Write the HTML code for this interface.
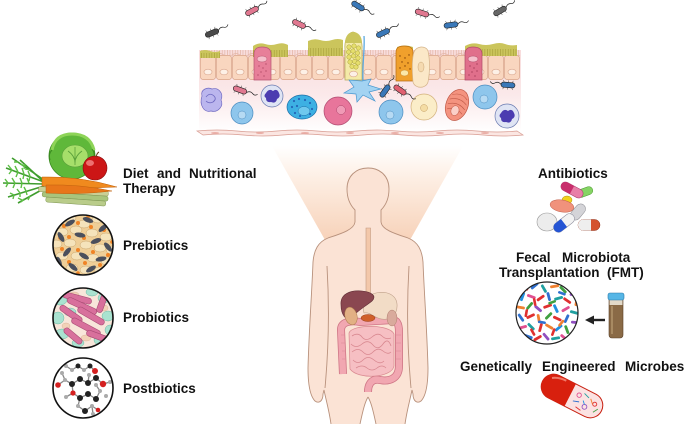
<!DOCTYPE html>
<html><head><meta charset="utf-8"><style>
html,body{margin:0;padding:0;background:#fff;}
svg{display:block;}
text{font-family:"Liberation Sans",Arial,sans-serif;font-weight:bold;font-size:13.5px;fill:#111;}
</style></head><body>
<svg width="685" height="424" viewBox="0 0 685 424" xmlns="http://www.w3.org/2000/svg">
<defs>
<linearGradient id="beam" x1="0" y1="0" x2="0" y2="1">
<stop offset="0" stop-color="#ffffff"/>
<stop offset="0.35" stop-color="#fdeee3"/>
<stop offset="1" stop-color="#f7d2b9"/>
</linearGradient>
<linearGradient id="lam" x1="0" y1="0" x2="0" y2="1">
<stop offset="0" stop-color="#f8dcdc"/>
<stop offset="0.55" stop-color="#fbe9ea"/>
<stop offset="1" stop-color="#ffffff"/>
</linearGradient>
<pattern id="cells" x="200" y="55" width="16" height="25" patternUnits="userSpaceOnUse">
<rect x="0.4" y="0.4" width="15.2" height="24.2" rx="3" fill="#f9d6bf" stroke="#d9a58c" stroke-width="0.7"/>
<ellipse cx="8" cy="17" rx="4" ry="2.8" fill="#fdf0e6" stroke="#d9a58c" stroke-width="0.6"/>
</pattern>
<pattern id="mv" x="0" y="0" width="2.6" height="8" patternUnits="userSpaceOnUse">
<line x1="1.2" y1="0" x2="1.2" y2="8" stroke="#dfae9c" stroke-width="0.6"/>
</pattern>
<pattern id="mvg" x="0" y="0" width="2.6" height="8" patternUnits="userSpaceOnUse">
<line x1="1.2" y1="0" x2="1.2" y2="8" stroke="#a39c36" stroke-width="0.6"/>
</pattern>
<g id="bac">
<path d="M-4,-2.6 l-1,-2 M0,-2.6 l0,-2 M4,-2.6 l1,-2 M-4,2.6 l-1,2 M0,2.6 l0,2 M4,2.6 l1,2" stroke="#222" stroke-width="0.4"/>
<rect x="-7" y="-2.6" width="14" height="5.2" rx="2.6" stroke="#222" stroke-width="0.6"/>
<path d="M7,0 q3,-3 6,-1 t5,-1" fill="none" stroke="#222" stroke-width="0.7"/>
</g>
<clipPath id="c1"><circle cx="83" cy="245" r="30"/></clipPath>
<clipPath id="c2"><circle cx="83" cy="318" r="30"/></clipPath>
<clipPath id="c3"><circle cx="83" cy="388" r="30"/></clipPath>
<clipPath id="c4"><circle cx="547" cy="313" r="31"/></clipPath>
</defs>

<!-- ================= TISSUE ================= -->
<rect x="199" y="50" width="322" height="82" fill="url(#lam)"/>
<rect x="200" y="50" width="320" height="6" fill="url(#mv)"/>
<path d="M200,55 q4,-3 8,0 t8,0 t8,0 t8,0 t8,0 t8,0 t8,0 t8,0 t8,0 t8,0 t8,0 t8,0 t8,0 t8,0 t8,0 t8,0 t8,0 t8,0 t8,0 t8,0 t8,0 t8,0 t8,0 t8,0 t8,0 t8,0 t8,0 t8,0 t8,0 t8,0 t8,0 t8,0 t8,0 t8,0 t8,0 t8,0 t8,0 t8,0 t8,0 t8,0" fill="none" stroke="#e4b6a6" stroke-width="0.7"/>
<rect x="200" y="55" width="320" height="25" fill="url(#cells)"/>
<g fill="#cbc55c">
<path d="M200,51 q5,-2 10,0 t10,0 L220,58 L200,58 Z"/>
<path d="M253,46 q6,-4 12,-2 t12,0 t11,1 L288,57 L253,57 Z"/>
<path d="M308,41 q6,-3 12,-1 t12,0 t11,0 L343,56 L308,56 Z"/>
<path d="M397,47 q8,-3 16,0 L413,56 L397,56 Z"/>
<path d="M465,46 q7,-4 14,-2 t14,0 t12,0 t12,1 L517,56 L465,56 Z"/>
</g>
<g>
<rect x="200" y="53" width="20" height="5" fill="url(#mvg)"/>
<rect x="253" y="50" width="35" height="7" fill="url(#mvg)"/>
<rect x="308" y="48" width="35" height="8" fill="url(#mvg)"/>
<rect x="465" y="49" width="52" height="7" fill="url(#mvg)"/>
</g>
<path d="M254,80 L254,54 C254,49 257,47 262,47 C268,47 271,49 271,54 L271,80 Z" fill="#e77f99" stroke="#b75470" stroke-width="0.7"/>
<ellipse cx="262" cy="59" rx="5" ry="3" fill="#f5c0cc" stroke="#b75470" stroke-width="0.5"/>
<g fill="#a03a58"><circle cx="259" cy="66" r="0.6"/><circle cx="263" cy="68" r="0.6"/><circle cx="266" cy="64" r="0.6"/><circle cx="261" cy="72" r="0.6"/><circle cx="266" cy="71" r="0.6"/><circle cx="258" cy="75" r="0.6"/><circle cx="264" cy="76" r="0.6"/></g>
<path d="M465,80 L465,54 C465,49 468,47 473,47 C479,47 482,49 482,54 L482,80 Z" fill="#e06f8b" stroke="#b04a68" stroke-width="0.7"/>
<ellipse cx="473" cy="59" rx="5" ry="3" fill="#f5c0cc" stroke="#b04a68" stroke-width="0.5"/>
<g fill="#902a48"><circle cx="470" cy="66" r="0.6"/><circle cx="474" cy="68" r="0.6"/><circle cx="477" cy="64" r="0.6"/><circle cx="472" cy="72" r="0.6"/><circle cx="477" cy="71" r="0.6"/><circle cx="469" cy="75" r="0.6"/><circle cx="475" cy="76" r="0.6"/></g>
<path d="M345,80 L345,50 C344,40 348,33 353,32 C358,33 363,40 362,50 L362,80 Z" fill="#f4eaa8" stroke="#b3a758" stroke-width="0.7"/>
<path d="M345,43 C345,36 349,32 353,32 C358,32 362,36 362,43 Z" fill="#cbc55c"/>
<g fill="#e6df6c" stroke="#aba23e" stroke-width="0.5">
<circle cx="349" cy="47" r="2.2"/><circle cx="354" cy="46" r="2.2"/><circle cx="358.5" cy="48" r="2.2"/>
<circle cx="348.5" cy="52" r="2.2"/><circle cx="353" cy="51" r="2.2"/><circle cx="357.5" cy="53" r="2.2"/>
<circle cx="349" cy="57" r="2.2"/><circle cx="353.5" cy="56" r="2.2"/><circle cx="358" cy="58" r="2.2"/>
<circle cx="350" cy="62" r="2.2"/><circle cx="354.5" cy="61.5" r="2.2"/><circle cx="358" cy="63" r="2.2"/>
<circle cx="352" cy="66.5" r="2.2"/><circle cx="356" cy="67" r="2.2"/>
</g>
<ellipse cx="353.5" cy="74" rx="4" ry="2.8" fill="#fdf0e6" stroke="#d9a58c" stroke-width="0.6"/>
<path d="M396,81 L396,52 C396,48 399,46 404,46 C410,46 413,48 413,52 L413,81 Z" fill="#f0a02c" stroke="#b86e14" stroke-width="0.7"/>
<g fill="#7a3c08"><circle cx="400" cy="56" r="0.7"/><circle cx="405" cy="58" r="0.7"/><circle cx="409" cy="55" r="0.7"/><circle cx="402" cy="62" r="0.7"/><circle cx="408" cy="63" r="0.7"/><circle cx="400" cy="68" r="0.7"/><circle cx="405" cy="66" r="0.7"/><circle cx="410" cy="69" r="0.7"/></g>
<ellipse cx="404.5" cy="73" rx="4" ry="3" fill="#fbe7a8" stroke="#c88a30" stroke-width="0.5"/>
<path d="M413,82 C412,70 412,58 414,52 C416,46 426,45 428,51 C430,60 430,72 428,82 C426,89 415,89 413,82 Z" fill="#fbe8c8" stroke="#d5b48a" stroke-width="0.7"/>
<ellipse cx="421" cy="67" rx="3" ry="5" fill="#f5dab0" stroke="#c9a474" stroke-width="0.5"/>
<path d="M364,36 C365,50 362,65 363,82" fill="none" stroke="#5aa8e0" stroke-width="1.3"/>
<path d="M362,81 L371,79 L368,85 L381,89 L369,92 L375,101 L363,95 L357,102 L356,94 L344,93 L354,87 L349,80 Z" fill="#a3d3f2" stroke="#4a98d0" stroke-width="0.7"/>
<path d="M202,96 C200,89 208,87 212,89 C218,87 224,93 221,100 C224,106 218,113 211,111 C204,113 199,105 202,96 Z" fill="#bbb6ee" stroke="#6f69c2" stroke-width="0.7"/>
<path d="M206,97 q4,-5 8,-1 q3,3 -1,6 q-4,2 -7,-1" fill="none" stroke="#6f69c2" stroke-width="0.8"/>
<circle cx="242" cy="113" r="11" fill="#8ec6ec" stroke="#4a8cc0" stroke-width="0.7"/>
<circle cx="242" cy="115" r="4" fill="#b6daf3" stroke="#4a8cc0" stroke-width="0.5"/>
<circle cx="272" cy="96" r="11" fill="#dfe4f4" stroke="#6a7ab0" stroke-width="0.7"/>
<path d="M266,93 q3,-5 7,-2 q4,-3 6,2 q2,4 -2,6 q-1,5 -6,3 q-5,1 -5,-4 q-3,-2 0,-5 Z" fill="#4b3cb0"/>
<ellipse cx="302" cy="107" rx="15" ry="12" fill="#3db0e3" stroke="#1c6fa8" stroke-width="0.7"/>
<ellipse cx="304" cy="111" rx="6" ry="4.5" fill="#6fc8ee" stroke="#1c6fa8" stroke-width="0.5"/>
<g fill="#2466b8"><circle cx="294" cy="101" r="1.1"/><circle cx="299" cy="99" r="1.1"/><circle cx="305" cy="100" r="1.1"/><circle cx="310" cy="103" r="1.1"/><circle cx="292" cy="107" r="1.1"/><circle cx="297" cy="106" r="1.1"/><circle cx="312" cy="109" r="1.1"/><circle cx="295" cy="113" r="1.1"/><circle cx="310" cy="114" r="1.1"/><circle cx="300" cy="116" r="1.1"/></g>
<circle cx="338" cy="111" r="14" fill="#e8759b" stroke="#b04a70" stroke-width="0.7"/>
<circle cx="341" cy="110" r="4.5" fill="#f09ab6" stroke="#b04a70" stroke-width="0.5"/>
<circle cx="391" cy="112" r="12" fill="#8ec6ec" stroke="#4a8cc0" stroke-width="0.7"/>
<circle cx="390" cy="115" r="4" fill="#b6daf3" stroke="#4a8cc0" stroke-width="0.5"/>
<circle cx="424" cy="107" r="13" fill="#fbedc8" stroke="#d2b07a" stroke-width="0.7"/>
<circle cx="424" cy="108" r="3.5" fill="#f4dca4" stroke="#c49c60" stroke-width="0.5"/>
<g transform="translate(457,105) rotate(20)">
<ellipse cx="0" cy="0" rx="11" ry="16" fill="#f4937f" stroke="#c05a48" stroke-width="0.7"/>
<path d="M-8,-8 q8,-6 16,0 M-9,-3 q9,-6 18,0 M-9,2 q9,-6 18,0 M-8,7 q8,-5 16,0" fill="none" stroke="#c05a48" stroke-width="0.6"/>
<ellipse cx="0" cy="6" rx="4" ry="5" fill="#fbd0c8" stroke="#c05a48" stroke-width="0.5"/>
</g>
<circle cx="485" cy="97" r="12" fill="#8ec6ec" stroke="#4a8cc0" stroke-width="0.7"/>
<circle cx="484" cy="99" r="4" fill="#b6daf3" stroke="#4a8cc0" stroke-width="0.5"/>
<circle cx="507" cy="116" r="12" fill="#dfe4f4" stroke="#6a7ab0" stroke-width="0.7"/>
<path d="M501,113 q3,-5 7,-2 q4,-3 6,2 q2,4 -2,6 q-1,5 -6,3 q-5,1 -5,-4 q-3,-2 0,-5 Z" fill="#4b3cb0"/>
<path d="M197,131 q20,-2 40,0 t40,0 t40,0 t40,0 t40,0 t40,0 t40,0 t40,0 L523,135 q-20,2 -40,0 t-40,0 t-40,0 t-40,0 t-40,0 t-40,0 t-40,0 t-40,0 Z" fill="#fbe6e2" stroke="#d89c92" stroke-width="0.7"/>
<g fill="#e8a8a0"><ellipse cx="215" cy="133" rx="4" ry="0.9"/><ellipse cx="260" cy="133" rx="4" ry="0.9"/><ellipse cx="305" cy="133" rx="4" ry="0.9"/><ellipse cx="350" cy="133" rx="4" ry="0.9"/><ellipse cx="395" cy="133" rx="4" ry="0.9"/><ellipse cx="440" cy="133" rx="4" ry="0.9"/><ellipse cx="485" cy="133" rx="4" ry="0.9"/></g>
<use href="#bac" transform="translate(252,11) rotate(-28)" fill="#e07890"/>
<use href="#bac" transform="translate(212,33) rotate(-22)" fill="#4a4a4a"/>
<use href="#bac" transform="translate(299,24) rotate(25)" fill="#e07890"/>
<use href="#bac" transform="translate(358,6) rotate(32)" fill="#3a78b8"/>
<use href="#bac" transform="translate(383,33) rotate(-25)" fill="#3a78b8"/>
<use href="#bac" transform="translate(422,13) rotate(18)" fill="#e07890"/>
<use href="#bac" transform="translate(451,25) rotate(-8)" fill="#3a78b8"/>
<use href="#bac" transform="translate(500,11) rotate(-30)" fill="#666"/>
<use href="#bac" transform="translate(240,90) rotate(20)" fill="#e07890"/>
<use href="#bac" transform="translate(385,91) rotate(-55)" fill="#3a78b8"/>
<use href="#bac" transform="translate(400,90) rotate(35)" fill="#e06070"/>
<use href="#bac" transform="translate(508,85) rotate(5) scale(-1,1)" fill="#3a78b8"/>

<!-- ================= BEAM + BODY ================= -->
<polygon points="272,146 463,146 410,240 325,240" fill="url(#beam)"/>
<g id="bodyhalf">
<path d="M368,168 C356,168 347,176 347,189 C347,198 350,205 355,210 L355,222 C354,230 340,234 328,238 C318,242 314,250 313,262 C312,290 309,330 308,368 C308,385 310,396 315,401 C319,404 323,401 323,394 L324,390 C326,400 329,410 331,424 L360,424 C363,410 365,402 368,397 Z" fill="#fbe3d5"/>
<path d="M368,168 C356,168 347,176 347,189 C347,198 350,205 355,210 L355,222 C354,230 340,234 328,238 C318,242 314,250 313,262 C312,290 309,330 308,368 C308,385 310,396 315,401 C319,404 323,401 323,394 L324,390 C326,400 329,410 331,424 M360,424 C363,410 365,402 368,397 M327,266 C329,300 329,345 325,388" fill="none" stroke="#b8917c" stroke-width="0.9"/>
</g>
<use href="#bodyhalf" transform="translate(736,0) scale(-1,1)"/>
<path d="M366,228 L366,294 L370.5,294 L370.5,228 Z" fill="#f3c8aa" stroke="#c49a80" stroke-width="0.6"/>
<path d="M343,374 L341,330 C341,322 350,320 360,322 L392,320 C398,320 399,326 399,332 L399,366 C399,378 390,382 380,380 C372,378 368,384 368,392" fill="none" stroke="#cf7686" stroke-width="8"/>
<path d="M343,374 L341,330 C341,322 350,320 360,322 L392,320 C398,320 399,326 399,332 L399,366 C399,378 390,382 380,380 C372,378 368,384 368,392" fill="none" stroke="#f1a7b1" stroke-width="6.4"/>
<path d="M341,335 l4,0 M341,343 l4,0 M342,351 l4,0 M342,359 l4,0 M396,335 l5,0 M396,343 l5,0 M396,351 l5,0 M396,359 l5,0" stroke="#d98896" stroke-width="0.6"/>
<path d="M349,333 C352,324 390,324 394,334 L394,366 C392,378 358,380 350,369 Z" fill="#f6bfc3" stroke="#d88890" stroke-width="0.7"/>
<path d="M352,336 q6,-4 10,1 t10,0 t10,-1 t9,2 M351,344 q5,5 11,0 t11,1 t10,-1 t8,2 M352,352 q6,-5 11,0 t10,0 t10,-1 t8,1 M353,360 q5,5 10,0 t11,0 t10,1 M356,368 q6,-4 11,0 t10,0 t9,0" fill="none" stroke="#d88890" stroke-width="0.8"/>
<path d="M369,296 C380,289 396,292 397,304 C398,316 388,322 378,318 C372,316 370,312 364,313 C362,306 364,299 369,296 Z" fill="#f2dcc6" stroke="#bfa08a" stroke-width="0.6"/>
<ellipse cx="392" cy="318" rx="5" ry="8" fill="#d9aa9c" stroke="#b08070" stroke-width="0.5"/>
<path d="M341,305 C340,294 350,290 362,291 C372,292 377,296 372,301 C366,306 357,311 351,318 C346,322 341,314 341,305 Z" fill="#8a4750" stroke="#5e2c34" stroke-width="0.6"/>
<ellipse cx="351" cy="316" rx="6" ry="9" transform="rotate(-15 351 316)" fill="#e2b084" stroke="#a87848" stroke-width="0.5"/>
<ellipse cx="368" cy="318" rx="7" ry="3.5" fill="#d0602a" stroke="#9a4018" stroke-width="0.5"/>

<!-- ================= LEFT COLUMN ================= -->
<!-- cabbage -->
<circle cx="72" cy="156" r="23" fill="#5fb83a" stroke="#3a8a20" stroke-width="0.8"/>
<path d="M52,150 q3,-16 20,-16 q18,0 22,16" fill="none" stroke="#8ed458" stroke-width="3"/>
<path d="M50,160 q-2,-6 2,-10 M93,160 q3,-6 -1,-11" fill="none" stroke="#3a8a20" stroke-width="1"/>
<ellipse cx="75" cy="156" rx="13" ry="11" fill="#a6df6a" stroke="#5aa03a" stroke-width="0.6"/>
<path d="M75,147 l0,18 M68,151 q7,5 7,12 M82,151 q-7,5 -7,12" fill="none" stroke="#5aa03a" stroke-width="0.8"/>
<!-- carrot fronds -->
<g stroke="#3f9d2e" stroke-width="1.6" fill="none">
<path d="M44,182 L6,168"/><path d="M44,184 L3,183"/><path d="M44,186 L8,197"/><path d="M46,184 L20,160"/><path d="M45,188 L18,203"/><path d="M44,180 L12,158"/>
</g>
<g stroke="#5cbf44" stroke-width="1.4" fill="none">
<path d="M12,170 l-4,-5 M18,172 l-3,-6 M24,174 l-2,-6 M12,170 l-3,4 M18,172 l-2,5 M24,174 l-1,5 M30,176 l-2,-5 M30,176 l-1,5 M8,183 l-3,-4 M15,183 l-3,-5 M22,183 l-2,-5 M29,183 l-2,-5 M8,183 l-2,4 M15,183 l-2,5 M22,183 l-1,5 M14,195 l-4,-2 M20,193 l-3,-4 M26,191 l-2,-4 M14,195 l-1,4 M20,193 l0,4 M26,191 l1,4 M25,166 l-5,-2 M30,170 l-5,-1 M24,169 l1,-5 M18,162 l-4,0 M24,199 l-3,3 M30,196 l-2,4 M22,200 l-4,-2"/>
</g>
<!-- asparagus -->
<g transform="rotate(4 75 198)">
<rect x="38" y="189" width="70" height="5" rx="2" fill="#c9cf96" stroke="#8f9a5a" stroke-width="0.5"/>
<rect x="42" y="194" width="66" height="5" rx="2" fill="#a9c47c" stroke="#7c9450" stroke-width="0.5"/>
<rect x="46" y="199" width="60" height="5" rx="2" fill="#b9cc8a" stroke="#7c9450" stroke-width="0.5"/>
</g>
<!-- carrots -->
<path d="M42,177 Q80,176 117,187 Q80,189 42,186 Z" fill="#f08a1e" stroke="#c0600c" stroke-width="0.5"/>
<path d="M46,185 Q80,184 112,191 Q80,195 46,193 Z" fill="#e8761a" stroke="#c0600c" stroke-width="0.5"/>
<!-- apple -->
<circle cx="95" cy="168" r="12" fill="#cc1616" stroke="#8a0c0c" stroke-width="0.6"/>
<ellipse cx="90" cy="163" rx="4" ry="3" fill="#ee7070"/>
<path d="M96,157 q1,-4 3,-5" stroke="#6a4020" stroke-width="1" fill="none"/>

<!-- prebiotics -->
<g clip-path="url(#c1)">
<rect x="50" y="212" width="66" height="66" fill="#efcf98"/>
<g fill="#f5e3bb" stroke="#c7a26a" stroke-width="0.5">
<ellipse cx="58" cy="222" rx="6" ry="4"/><ellipse cx="70" cy="218" rx="6" ry="4"/><ellipse cx="84" cy="224" rx="6" ry="4"/><ellipse cx="98" cy="219" rx="6" ry="4"/><ellipse cx="110" cy="226" rx="6" ry="4"/>
<ellipse cx="62" cy="232" rx="6" ry="4"/><ellipse cx="76" cy="230" rx="6" ry="4"/><ellipse cx="92" cy="233" rx="6" ry="4"/><ellipse cx="106" cy="237" rx="6" ry="4"/>
<ellipse cx="56" cy="244" rx="6" ry="4"/><ellipse cx="70" cy="243" rx="6" ry="4"/><ellipse cx="86" cy="245" rx="6" ry="4"/><ellipse cx="100" cy="248" rx="6" ry="4"/><ellipse cx="112" cy="250" rx="6" ry="4"/>
<ellipse cx="62" cy="256" rx="6" ry="4"/><ellipse cx="77" cy="256" rx="6" ry="4"/><ellipse cx="93" cy="258" rx="6" ry="4"/><ellipse cx="107" cy="261" rx="6" ry="4"/>
<ellipse cx="58" cy="268" rx="6" ry="4"/><ellipse cx="72" cy="268" rx="6" ry="4"/><ellipse cx="86" cy="270" rx="6" ry="4"/><ellipse cx="100" cy="271" rx="6" ry="4"/>
</g>
<g fill="#f08426">
<circle cx="64" cy="226" r="2"/><circle cx="78" cy="223" r="2"/><circle cx="91" cy="227" r="2"/><circle cx="104" cy="230" r="2"/><circle cx="69" cy="237" r="2"/><circle cx="84" cy="238" r="2"/><circle cx="99" cy="240" r="2"/>
<circle cx="62" cy="249" r="2"/><circle cx="78" cy="250" r="2"/><circle cx="93" cy="252" r="2"/><circle cx="108" cy="255" r="2"/><circle cx="69" cy="262" r="2"/><circle cx="85" cy="263" r="2"/><circle cx="100" cy="265" r="2"/>
<circle cx="60" cy="238" r="1.8"/><circle cx="112" cy="242" r="1.8"/><circle cx="78" cy="273" r="1.8"/><circle cx="93" cy="276" r="1.8"/><circle cx="88" cy="217" r="1.8"/>
</g>
<g fill="#4a4f5c">
<ellipse cx="70" cy="223" rx="5.5" ry="2.4" transform="rotate(-30 70 223)"/>
<ellipse cx="88" cy="220" rx="5.5" ry="2.4" transform="rotate(20 88 220)"/>
<ellipse cx="103" cy="228" rx="5.5" ry="2.4" transform="rotate(-40 103 228)"/>
<ellipse cx="61" cy="237" rx="5.5" ry="2.4" transform="rotate(60 61 237)"/>
<ellipse cx="80" cy="235" rx="5.5" ry="2.4" transform="rotate(10 80 235)"/>
<ellipse cx="96" cy="241" rx="5.5" ry="2.4" transform="rotate(-20 96 241)"/>
<ellipse cx="108" cy="247" rx="5.5" ry="2.4" transform="rotate(50 108 247)"/>
<ellipse cx="67" cy="252" rx="5.5" ry="2.4" transform="rotate(-50 67 252)"/>
<ellipse cx="84" cy="256" rx="5.5" ry="2.4" transform="rotate(30 84 256)"/>
<ellipse cx="101" cy="259" rx="5.5" ry="2.4" transform="rotate(-10 101 259)"/>
<ellipse cx="73" cy="267" rx="5.5" ry="2.4" transform="rotate(40 73 267)"/>
<ellipse cx="91" cy="269" rx="5.5" ry="2.4" transform="rotate(-30 91 269)"/>
<ellipse cx="59" cy="262" rx="5.5" ry="2.4" transform="rotate(70 59 262)"/>
</g>
</g>
<circle cx="83" cy="245" r="30" fill="none" stroke="#111" stroke-width="1.6"/>

<!-- probiotics -->
<g clip-path="url(#c2)">
<rect x="50" y="285" width="66" height="66" fill="#f8e6da"/>
<g fill="#a9e2d0" stroke="#6fb8a4" stroke-width="0.5">
<ellipse cx="60" cy="300" rx="7" ry="5"/><ellipse cx="104" cy="298" rx="6" ry="5"/><ellipse cx="58" cy="318" rx="6" ry="6"/><ellipse cx="70" cy="312" rx="6" ry="4"/>
<ellipse cx="108" cy="316" rx="6" ry="5"/><ellipse cx="62" cy="334" rx="7" ry="5"/><ellipse cx="100" cy="340" rx="6" ry="5"/><ellipse cx="78" cy="343" rx="6" ry="4"/>
<ellipse cx="92" cy="292" rx="6" ry="4"/><ellipse cx="110" cy="330" rx="5" ry="5"/>
</g>
<g fill="#f2d2b8" stroke="#d4a88c" stroke-width="0.4">
<ellipse cx="74" cy="295" rx="5" ry="3"/><ellipse cx="86" cy="338" rx="5" ry="3"/><ellipse cx="66" cy="326" rx="4" ry="3"/><ellipse cx="104" cy="308" rx="4" ry="3"/>
</g>
<g fill="#d8709c" stroke="#a84a74" stroke-width="0.6">
<rect x="62" y="295" width="30" height="6" rx="3" transform="rotate(15 77 298)"/>
<rect x="66" y="303" width="32" height="6" rx="3" transform="rotate(25 82 306)"/>
<rect x="58" y="311" width="26" height="6" rx="3" transform="rotate(35 71 314)"/>
<rect x="76" y="313" width="30" height="6" rx="3" transform="rotate(30 91 316)"/>
<rect x="70" y="324" width="32" height="6" rx="3" transform="rotate(28 86 327)"/>
<rect x="92" y="300" width="20" height="6" rx="3" transform="rotate(-70 102 303)"/>
<rect x="62" y="333" width="22" height="6" rx="3" transform="rotate(40 73 336)"/>
<rect x="86" y="333" width="22" height="6" rx="3" transform="rotate(20 97 336)"/>
</g>
</g>
<circle cx="83" cy="318" r="30" fill="none" stroke="#111" stroke-width="1.6"/>

<!-- postbiotics -->
<circle cx="83" cy="388" r="30" fill="#fff"/>
<g clip-path="url(#c3)">
<g stroke="#888" stroke-width="1.3" fill="none">
<path d="M66,366 L72,370 L78,366 L84,370 L90,366 L95,371"/>
<path d="M58,385 L65,380 L72,384 L80,379 L88,383 L96,378 L103,384"/>
<path d="M72,384 L73,393 L80,398 L88,394 L96,399 L100,391 L96,385"/>
<path d="M80,398 L78,406 L85,411 L92,406 L98,410"/>
<path d="M65,380 L62,373 M88,383 L89,375 M103,384 L110,382 M73,393 L66,397 M92,406 L93,414"/>
</g>
<g fill="#222"><circle cx="72" cy="384" r="3"/><circle cx="80" cy="379" r="3"/><circle cx="88" cy="383" r="3"/><circle cx="96" cy="378" r="3"/><circle cx="80" cy="398" r="3"/><circle cx="88" cy="394" r="3"/><circle cx="96" cy="399" r="3"/><circle cx="85" cy="411" r="3"/><circle cx="78" cy="366" r="2.5"/><circle cx="90" cy="366" r="2.5"/></g>
<g fill="#d42020"><circle cx="58" cy="385" r="2.8"/><circle cx="103" cy="384" r="3.2"/><circle cx="73" cy="393" r="2.6"/><circle cx="95" cy="371" r="3"/><circle cx="98" cy="410" r="2.3"/></g>
<g fill="#aaa"><circle cx="66" cy="366" r="2"/><circle cx="72" cy="370" r="2"/><circle cx="84" cy="370" r="2"/><circle cx="65" cy="380" r="2"/><circle cx="62" cy="373" r="2"/><circle cx="89" cy="375" r="2"/><circle cx="110" cy="382" r="2"/><circle cx="66" cy="397" r="2"/><circle cx="100" cy="391" r="2"/><circle cx="96" cy="385" r="2"/><circle cx="78" cy="406" r="2"/><circle cx="92" cy="406" r="2"/><circle cx="93" cy="414" r="2"/><circle cx="106" cy="396" r="2"/></g>
</g>
<circle cx="83" cy="388" r="30" fill="none" stroke="#111" stroke-width="1.6"/>

<text y="178"><tspan x="123">Diet</tspan><tspan x="157">and</tspan><tspan x="189">Nutritional</tspan></text>
<text x="123" y="193">Therapy</text>
<text x="123" y="250">Prebiotics</text>
<text x="123" y="322">Probiotics</text>
<text x="123" y="393">Postbiotics</text>

<!-- ================= RIGHT COLUMN ================= -->
<text x="538" y="178">Antibiotics</text>
<g transform="translate(585,192) rotate(-20)"><rect x="-8" y="-4" width="16" height="8" rx="4" fill="#86d464" stroke="#4a9a30" stroke-width="0.5"/></g>
<g transform="translate(572,190) rotate(28)"><rect x="-12" y="-4.5" width="24" height="9" rx="4.5" fill="#e87ea8" stroke="#a03060" stroke-width="0.5"/><path d="M0,-4.5 L-7.5,-4.5 A4.5,4.5 0 0 0 -7.5,4.5 L0,4.5 Z" fill="#c82e6c"/></g>
<ellipse cx="567" cy="200" rx="5" ry="4" fill="#f2d21e" stroke="#b09010" stroke-width="0.5"/>
<ellipse cx="562" cy="206" rx="12" ry="6" transform="rotate(10 562 206)" fill="#f0927c" stroke="#c0604c" stroke-width="0.5"/>
<g transform="translate(578,212) rotate(-50)"><rect x="-9" y="-5" width="18" height="10" rx="5" fill="#d4d4d8" stroke="#8a8a90" stroke-width="0.5"/></g>
<ellipse cx="547" cy="222" rx="10" ry="9" fill="#ececec" stroke="#9a9a9a" stroke-width="0.6"/>
<g transform="translate(589,225)"><rect x="-11" y="-5.5" width="22" height="11" rx="5.5" fill="#d4522e" stroke="#903018" stroke-width="0.5"/><path d="M2,-5.5 L-5.5,-5.5 A5.5,5.5 0 0 0 -5.5,5.5 L2,5.5 Z" fill="#eeeeee"/></g>
<g transform="translate(564,223) rotate(-38)"><rect x="-12" y="-5" width="24" height="10" rx="5" fill="#f2f2f2" stroke="#8a8a9a" stroke-width="0.5"/><path d="M0,-5 L-7,-5 A5,5 0 0 0 -7,5 L0,5 Z" fill="#2454d4"/></g>

<text y="262"><tspan x="516">Fecal</tspan><tspan x="562">Microbiota</tspan></text>
<text y="277"><tspan x="499">Transplantation</tspan><tspan x="607">(FMT)</tspan></text>
<circle cx="547" cy="313" r="31" fill="#fff"/>
<g clip-path="url(#c4)">
<g stroke-width="0">
<rect x="520" y="286" width="9" height="2.8" rx="1.2" fill="#e03030" transform="rotate(30 524 287)"/>
<rect x="530" y="285" width="9" height="2.8" rx="1.2" fill="#3070d0" transform="rotate(-40 534 286)"/>
<rect x="540" y="287" width="9" height="2.8" rx="1.2" fill="#20a0a0" transform="rotate(60 544 288)"/>
<rect x="550" y="285" width="9" height="2.8" rx="1.2" fill="#f08030" transform="rotate(-10 554 286)"/>
<rect x="559" y="288" width="9" height="2.8" rx="1.2" fill="#40a040" transform="rotate(45 563 289)"/>
<rect x="568" y="291" width="9" height="2.8" rx="1.2" fill="#9050c0" transform="rotate(-60 572 292)"/>
<rect x="518" y="296" width="9" height="2.8" rx="1.2" fill="#2090e0" transform="rotate(-70 522 297)"/>
<rect x="527" y="295" width="9" height="2.8" rx="1.2" fill="#e05090" transform="rotate(20 531 296)"/>
<rect x="536" y="297" width="9" height="2.8" rx="1.2" fill="#e03030" transform="rotate(-35 540 298)"/>
<rect x="545" y="295" width="9" height="2.8" rx="1.2" fill="#3070d0" transform="rotate(75 549 296)"/>
<rect x="554" y="297" width="9" height="2.8" rx="1.2" fill="#20a0a0" transform="rotate(-15 558 298)"/>
<rect x="563" y="299" width="9" height="2.8" rx="1.2" fill="#e03030" transform="rotate(35 567 300)"/>
<rect x="572" y="301" width="9" height="2.8" rx="1.2" fill="#f08030" transform="rotate(-80 576 302)"/>
<rect x="516" y="306" width="9" height="2.8" rx="1.2" fill="#f08030" transform="rotate(10 520 307)"/>
<rect x="525" y="305" width="9" height="2.8" rx="1.2" fill="#40a040" transform="rotate(-50 529 306)"/>
<rect x="534" y="307" width="9" height="2.8" rx="1.2" fill="#9050c0" transform="rotate(40 538 308)"/>
<rect x="543" y="305" width="9" height="2.8" rx="1.2" fill="#e03030" transform="rotate(-20 547 306)"/>
<rect x="552" y="307" width="9" height="2.8" rx="1.2" fill="#2090e0" transform="rotate(65 556 308)"/>
<rect x="561" y="308" width="9" height="2.8" rx="1.2" fill="#e05090" transform="rotate(-30 565 309)"/>
<rect x="570" y="311" width="9" height="2.8" rx="1.2" fill="#20a0a0" transform="rotate(15 574 312)"/>
<rect x="517" y="316" width="9" height="2.8" rx="1.2" fill="#3070d0" transform="rotate(55 521 317)"/>
<rect x="526" y="315" width="9" height="2.8" rx="1.2" fill="#e03030" transform="rotate(-25 530 316)"/>
<rect x="535" y="317" width="9" height="2.8" rx="1.2" fill="#f08030" transform="rotate(80 539 318)"/>
<rect x="544" y="315" width="9" height="2.8" rx="1.2" fill="#40a040" transform="rotate(-45 548 316)"/>
<rect x="553" y="317" width="9" height="2.8" rx="1.2" fill="#e03030" transform="rotate(25 557 318)"/>
<rect x="562" y="318" width="9" height="2.8" rx="1.2" fill="#3070d0" transform="rotate(-65 566 319)"/>
<rect x="571" y="321" width="9" height="2.8" rx="1.2" fill="#9050c0" transform="rotate(5 575 322)"/>
<rect x="518" y="326" width="9" height="2.8" rx="1.2" fill="#e05090" transform="rotate(-15 522 327)"/>
<rect x="527" y="325" width="9" height="2.8" rx="1.2" fill="#20a0a0" transform="rotate(45 531 326)"/>
<rect x="536" y="327" width="9" height="2.8" rx="1.2" fill="#e03030" transform="rotate(-75 540 328)"/>
<rect x="545" y="325" width="9" height="2.8" rx="1.2" fill="#f08030" transform="rotate(30 549 326)"/>
<rect x="554" y="327" width="9" height="2.8" rx="1.2" fill="#2090e0" transform="rotate(-40 558 328)"/>
<rect x="563" y="328" width="9" height="2.8" rx="1.2" fill="#40a040" transform="rotate(70 567 329)"/>
<rect x="524" y="335" width="9" height="2.8" rx="1.2" fill="#3070d0" transform="rotate(20 528 336)"/>
<rect x="533" y="337" width="9" height="2.8" rx="1.2" fill="#e03030" transform="rotate(-30 537 338)"/>
<rect x="542" y="335" width="9" height="2.8" rx="1.2" fill="#9050c0" transform="rotate(50 546 336)"/>
<rect x="551" y="337" width="9" height="2.8" rx="1.2" fill="#20a0a0" transform="rotate(-10 555 338)"/>
<rect x="560" y="336" width="9" height="2.8" rx="1.2" fill="#e05090" transform="rotate(40 564 337)"/>
<rect x="531" y="301" width="8" height="2.6" rx="1.2" fill="#e03030" transform="rotate(80 535 302)"/>
<rect x="548" y="301" width="8" height="2.6" rx="1.2" fill="#40a040" transform="rotate(-20 552 302)"/>
<rect x="538" y="321" width="8" height="2.6" rx="1.2" fill="#3070d0" transform="rotate(10 542 322)"/>
<rect x="557" y="322" width="8" height="2.6" rx="1.2" fill="#f08030" transform="rotate(-50 561 323)"/>
<rect x="529" y="331" width="8" height="2.6" rx="1.2" fill="#e03030" transform="rotate(60 533 332)"/>
<rect x="549" y="331" width="8" height="2.6" rx="1.2" fill="#e03030" transform="rotate(-70 553 332)"/>
<rect x="558" y="292" width="8" height="2.6" rx="1.2" fill="#3070d0" transform="rotate(20 562 293)"/>
<rect x="522" y="312" width="8" height="2.6" rx="1.2" fill="#e03030" transform="rotate(-80 526 313)"/>
</g>
</g>
<circle cx="547" cy="313" r="31" fill="none" stroke="#222" stroke-width="1.2"/>
<line x1="605" y1="320" x2="592" y2="320" stroke="#222" stroke-width="2.4"/>
<polygon points="585,320 594,315.5 594,324.5" fill="#222"/>
<rect x="609" y="297" width="14" height="41" rx="3" fill="#8a6a46" stroke="#5a4028" stroke-width="0.6"/>
<rect x="609.5" y="299" width="13" height="6" fill="#e2d9c8"/>
<rect x="611" y="306" width="2" height="28" fill="#a88a62"/>
<rect x="608" y="293" width="16" height="7" rx="2" fill="#56b6e6" stroke="#2a78a8" stroke-width="0.6"/>

<text y="371"><tspan x="460">Genetically</tspan><tspan x="542">Engineered</tspan><tspan x="625">Microbes</tspan></text>
<g transform="translate(572,396) rotate(27)">
<rect x="-33" y="-12.5" width="66" height="25" rx="12.5" fill="#fbe2e2" stroke="#c82010" stroke-width="1"/>
<path d="M-2,-12.5 L-20.5,-12.5 A12.5,12.5 0 0 0 -20.5,12.5 L-2,12.5 Z" fill="#d8200e"/>
<path d="M-26,-7 q6,-4 14,-4" stroke="#f07a6a" stroke-width="2" fill="none"/>
<g fill="none" stroke-width="0.9">
<circle cx="6" cy="-4" r="2.2" stroke="#e05090"/><circle cx="16" cy="4" r="2.4" stroke="#9050c0"/><circle cx="24" cy="-3" r="2" stroke="#e03030"/>
<path d="M3,4 l6,-2" stroke="#3070d0"/><path d="M10,-8 l6,2" stroke="#20a0a0"/><path d="M18,-6 l4,4" stroke="#f08030"/><path d="M26,5 l3,-5" stroke="#40a040"/><path d="M8,8 l6,1" stroke="#e03030"/><path d="M12,-1 l3,3" stroke="#2090e0"/>
</g>
</g>
</svg>
</body></html>
